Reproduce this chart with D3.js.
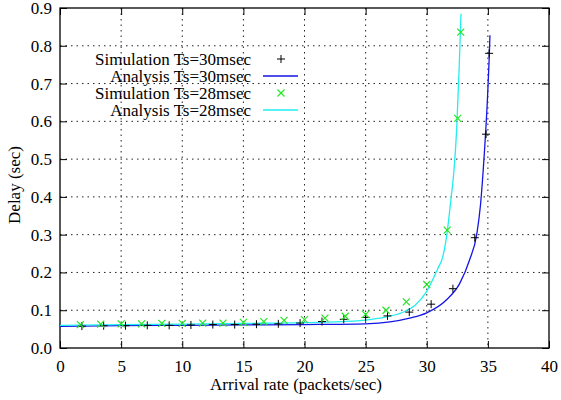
<!DOCTYPE html>
<html>
<head>
<meta charset="utf-8">
<script src="https://cdn.jsdelivr.net/npm/d3@7"></script>
<style>
  body { margin: 0; background: #fff; }
  text { font-family: "Liberation Serif", "DejaVu Serif", serif; }
</style>
</head>
<body>
<script>
// tick values
const xTicks = [0, 5, 10, 15, 20, 25, 30, 35, 40]
const yTicks = [0, 0.1, 0.2, 0.3, 0.4, 0.5, 0.6, 0.7, 0.8, 0.9]

// Simulation Ts=30msec (black +)
const sim30X = [1.79, 3.57, 5.36, 7.14, 8.93, 10.71, 12.5, 14.29, 16.07, 17.86, 19.64, 21.43,
  23.21, 25.0, 26.79, 28.57, 30.36, 32.14, 33.93, 34.85, 35.1]
const sim30Y = [0.058, 0.059, 0.059, 0.060, 0.060, 0.061, 0.062, 0.062, 0.063, 0.064, 0.066, 0.070,
  0.076, 0.081, 0.085, 0.095, 0.116, 0.157, 0.292, 0.566, 0.780]

// Simulation Ts=28msec (green x)
const sim28X = [1.67, 3.33, 5.0, 6.67, 8.33, 10.0, 11.67, 13.33, 15.0, 16.67, 18.33, 20.0, 21.67,
  23.33, 25.0, 26.67, 28.33, 30.0, 31.67, 32.53, 32.78]
const sim28Y = [0.062, 0.063, 0.064, 0.064, 0.065, 0.065, 0.066, 0.066, 0.068, 0.070, 0.073, 0.075, 0.079,
  0.084, 0.089, 0.100, 0.122, 0.168, 0.312, 0.608, 0.836]

// Analysis Ts=30msec (blue line)
const ana30X = [0, 5, 10, 15, 20, 25, 27, 28.6, 30, 31.6, 32.7, 33.5, 34.1, 34.4, 34.7, 34.96, 35.1, 35.17]
const ana30Y = [0.057, 0.059, 0.060, 0.061, 0.062, 0.064, 0.069, 0.079, 0.093, 0.127, 0.171, 0.233,
  0.303, 0.38, 0.51, 0.656, 0.76, 0.828]

// Analysis Ts=28msec (cyan line)
const ana28X = [0, 5, 10, 15, 20, 23, 25, 26.5, 28, 29, 30, 30.9, 31.3, 31.6, 32.0, 32.2, 32.45, 32.65, 32.8]
const ana28Y = [0.060, 0.062, 0.063, 0.065, 0.067, 0.070, 0.074, 0.081, 0.094, 0.112, 0.150, 0.210,
  0.24, 0.29, 0.40, 0.46, 0.58, 0.74, 0.885]

const legendLabels = ['Simulation Ts=30msec', 'Analysis Ts=30msec', 'Simulation Ts=28msec', 'Analysis Ts=28msec']

const W = 561, H = 400
const m = { left: 60, right: 12, top: 8, bottom: 52 }

const svg = d3.select('body').append('svg')
  .attr('width', W)
  .attr('height', H)

const x = d3.scaleLinear().domain([0, 40]).range([m.left, W - m.right])
const y = d3.scaleLinear().domain([0, 0.9]).range([H - m.bottom, m.top])

// grid
const grid = svg.append('g')
  .attr('stroke', '#222')
  .attr('stroke-width', 1)
  .attr('stroke-dasharray', '1.5,4')
grid.selectAll('.vg')
  .data(xTicks.slice(1, -1))
  .enter().append('line')
  .attr('x1', d => x(d)).attr('x2', d => x(d))
  .attr('y1', y(0.9)).attr('y2', y(0))
grid.selectAll('.hg')
  .data(yTicks.slice(1, -1))
  .enter().append('line')
  .attr('x1', x(0)).attr('x2', x(40))
  .attr('y1', d => y(d)).attr('y2', d => y(d))

// axes with inward ticks on all four sides
const tickLen = 7
const axBottom = svg.append('g')
  .attr('transform', `translate(0,${y(0)})`)
  .call(d3.axisBottom(x).tickValues(xTicks).tickSize(-tickLen).tickPadding(12).tickFormat(d3.format('d')))
const axLeft = svg.append('g')
  .attr('transform', `translate(${x(0)},0)`)
  .call(d3.axisLeft(y).tickValues(yTicks).tickSize(-tickLen).tickPadding(8).tickFormat(d3.format('.1f')))
const axTop = svg.append('g')
  .attr('transform', `translate(0,${y(0.9)})`)
  .call(d3.axisTop(x).tickValues(xTicks).tickSize(-tickLen).tickFormat(''))
const axRight = svg.append('g')
  .attr('transform', `translate(${x(40)},0)`)
  .call(d3.axisRight(y).tickValues(yTicks).tickSize(-tickLen).tickFormat(''))

;[axBottom, axLeft, axTop, axRight].forEach(g => {
  g.select('.domain').remove()
  g.selectAll('line').attr('stroke', '#000')
  g.selectAll('text')
    .attr('fill', '#000')
    .style('font-size', '17px')
    .style('font-family', '"Liberation Serif", serif')
})

// frame
svg.append('rect')
  .attr('x', x(0)).attr('y', y(0.9))
  .attr('width', x(40) - x(0)).attr('height', y(0) - y(0.9))
  .attr('fill', 'none')
  .attr('stroke', '#000')
  .attr('stroke-width', 1.3)

// curves
const line = d3.line()
  .x(d => x(d[0]))
  .y(d => y(d[1]))
  .curve(d3.curveMonotoneX)

const plot = svg.append('g')

plot.append('path')
  .datum(d3.zip(ana30X, ana30Y))
  .attr('d', line)
  .attr('fill', 'none')
  .attr('stroke', '#1414e6')
  .attr('stroke-width', 1.3)

plot.append('path')
  .datum(d3.zip(ana28X, ana28Y))
  .attr('d', line)
  .attr('fill', 'none')
  .attr('stroke', '#22eeee')
  .attr('stroke-width', 1.3)

const plusPath = s => `M${-s},0H${s}M0,${-s}V${s}`
const crossPath = s => `M${-s},${-s}L${s},${s}M${-s},${s}L${s},${-s}`

plot.selectAll('.sim30')
  .data(d3.zip(sim30X, sim30Y))
  .enter().append('path')
  .attr('transform', d => `translate(${x(d[0])},${y(d[1])})`)
  .attr('d', plusPath(4))
  .attr('stroke', '#000')
  .attr('stroke-width', 1)

plot.selectAll('.sim28')
  .data(d3.zip(sim28X, sim28Y))
  .enter().append('path')
  .attr('transform', d => `translate(${x(d[0])},${y(d[1])})`)
  .attr('d', crossPath(3.5))
  .attr('stroke', '#22e622')
  .attr('stroke-width', 1.2)

// legend
const legend = svg.append('g')
legendLabels.forEach((label, i) => {
  const ly = 59 + i * 17
  legend.append('text')
    .attr('x', 251)
    .attr('y', ly)
    .attr('dy', '0.35em')
    .attr('text-anchor', 'end')
    .style('font-size', '17px')
    .text(label)
  const sx = 281
  if (i === 0) {
    legend.append('path')
      .attr('transform', `translate(${sx},${ly})`)
      .attr('d', plusPath(4))
      .attr('stroke', '#000')
  } else if (i === 2) {
    legend.append('path')
      .attr('transform', `translate(${sx},${ly})`)
      .attr('d', crossPath(3.5))
      .attr('stroke', '#22e622')
      .attr('stroke-width', 1.2)
  } else {
    legend.append('line')
      .attr('x1', 263).attr('x2', 298)
      .attr('y1', ly).attr('y2', ly)
      .attr('stroke', i === 1 ? '#1414e6' : '#22eeee')
      .attr('stroke-width', 1.3)
  }
})

// axis titles
svg.append('text')
  .attr('x', 296)
  .attr('y', 390)
  .attr('text-anchor', 'middle')
  .style('font-size', '17px')
  .text('Arrival rate (packets/sec)')

svg.append('text')
  .attr('transform', 'translate(20,185) rotate(-90)')
  .attr('text-anchor', 'middle')
  .style('font-size', '17px')
  .text('Delay (sec)')
</script>
</body>
</html>
